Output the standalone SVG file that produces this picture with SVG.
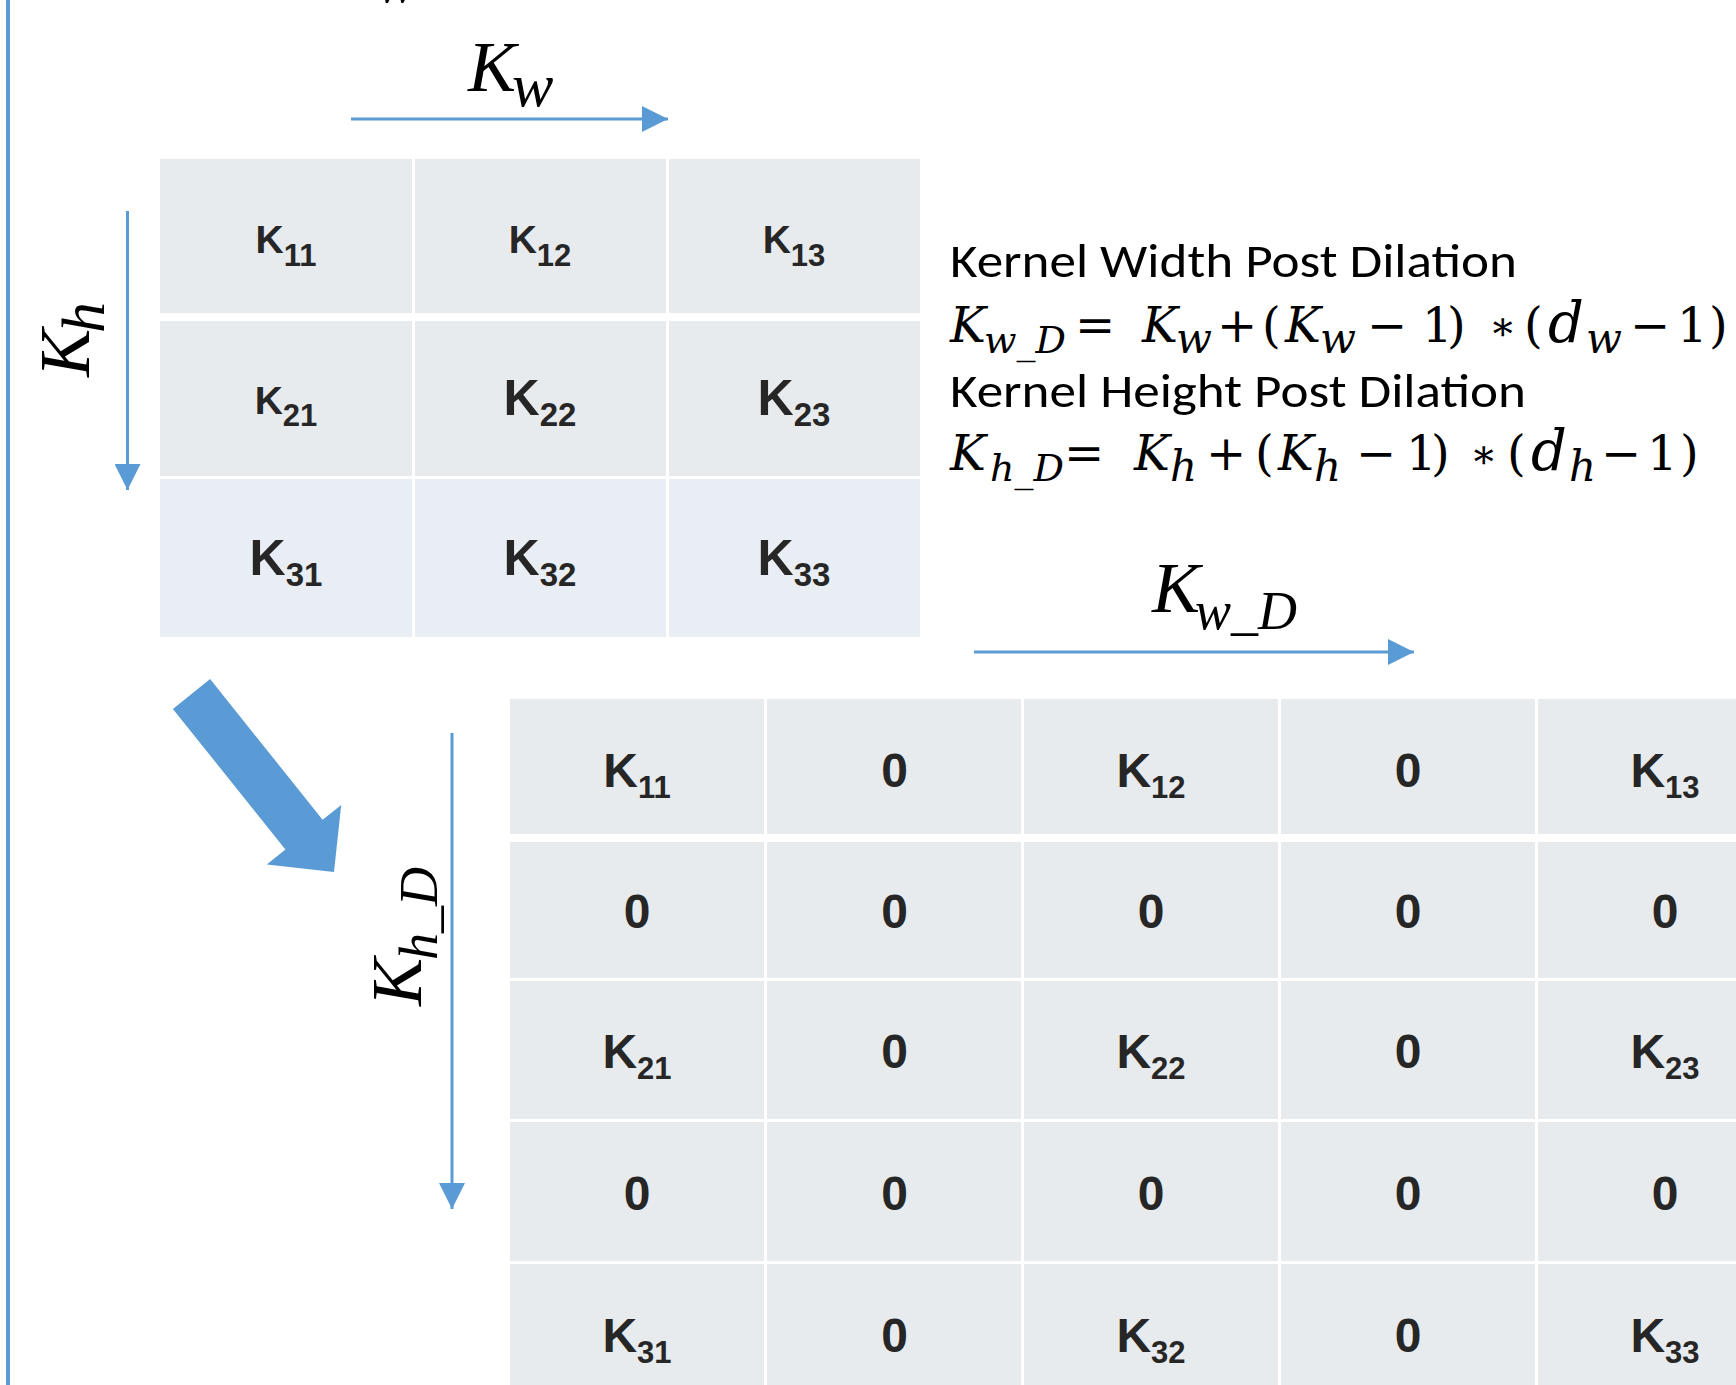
<svg xmlns="http://www.w3.org/2000/svg" width="1736" height="1385" viewBox="0 0 1736 1385">
<defs>
<style>
.c1{fill:#E7EBEE}
.c3{fill:#E9EDF4}
.kt{font-family:'Liberation Sans',Arial,sans-serif;font-weight:bold;fill:#262626;text-anchor:middle}
.math{font-family:'Liberation Serif','Times New Roman',serif;fill:#000}
.fm{font-family:'DejaVu Serif','Liberation Serif',serif;fill:#000;font-size:48px}
.it{font-style:italic}
.sb{font-size:38px;font-style:italic}
.sw{font-size:42px;font-style:italic}
.lbl{font-family:Carlito,Lato,'Open Sans',sans-serif;font-size:47px;fill:#000}
.conn{stroke:#5B9BD5;stroke-width:3;fill:none}
</style>
<marker id="ah" markerUnits="userSpaceOnUse" markerWidth="27" markerHeight="26" refX="26" refY="13" orient="auto" viewBox="0 0 27 26">
<path d="M0,0 L26,13 L0,26 z" fill="#5B9BD5"/>
</marker>
</defs>
<rect width="1736" height="1385" fill="#fff"/>
<rect x="6" y="0" width="4" height="1385" fill="#5B9BD5"/>

<g id="fragment-top">
<text class="math it" font-size="72"><tspan x="331" y="-14">K</tspan><tspan x="376" y="2" font-size="62">w</tspan></text>
</g>

<g id="connectors">
<line class="conn" x1="351" y1="119" x2="668" y2="119" marker-end="url(#ah)"/>
<line class="conn" x1="127.5" y1="211" x2="127.5" y2="490" marker-end="url(#ah)"/>
<line class="conn" x1="974" y1="652" x2="1414" y2="652" marker-end="url(#ah)"/>
<line class="conn" x1="452" y1="733" x2="452" y2="1209" marker-end="url(#ah)"/>
<polygon points="172.9,708.9 210.1,679.1 322.6,819.7 341.2,804.9 334,872.1 266.8,864.4 285.4,849.5" fill="#5B9BD5"/>
</g>

<g id="label-kw">
<text class="math it" font-size="72"><tspan x="468" y="91">K</tspan><tspan x="512" y="106" font-size="62">w</tspan></text>
</g>
<g id="label-kh">
<text class="math it" font-size="72" transform="translate(89,377) rotate(-90)"><tspan x="0" y="0">K</tspan><tspan x="44" y="15" font-size="62">h</tspan></text>
</g>
<g id="label-kwd">
<text class="math it" font-size="72"><tspan x="1152" y="612">K</tspan><tspan x="1195" y="629" font-size="54">w_D</tspan></text>
</g>
<g id="label-khd">
<text class="math it" font-size="72" transform="translate(421,1006) rotate(-90)"><tspan x="0" y="0">K</tspan><tspan x="46" y="16" font-size="54">h_D</tspan></text>
</g>

<g id="kernel-3x3">
<rect class="c1" x="160" y="159" width="252" height="154"/>
<rect class="c1" x="415" y="159" width="251" height="154"/>
<rect class="c1" x="669" y="159" width="251" height="154"/>
<rect class="c1" x="160" y="321" width="252" height="155"/>
<rect class="c1" x="415" y="321" width="251" height="155"/>
<rect class="c1" x="669" y="321" width="251" height="155"/>
<rect class="c3" x="160" y="479" width="252" height="158"/>
<rect class="c3" x="415" y="479" width="251" height="158"/>
<rect class="c3" x="669" y="479" width="251" height="158"/>
<text class="kt" x="286" y="253" font-size="39">K<tspan font-size="31" dy="13">11</tspan></text>
<text class="kt" x="540" y="253" font-size="39">K<tspan font-size="31" dy="13">12</tspan></text>
<text class="kt" x="794" y="253" font-size="39">K<tspan font-size="31" dy="13">13</tspan></text>
<text class="kt" x="286" y="414" font-size="39">K<tspan font-size="31" dy="12">21</tspan></text>
<text class="kt" x="540" y="415" font-size="50">K<tspan font-size="33" dy="11">22</tspan></text>
<text class="kt" x="794" y="415" font-size="50">K<tspan font-size="33" dy="11">23</tspan></text>
<text class="kt" x="286" y="575" font-size="50">K<tspan font-size="33" dy="11">31</tspan></text>
<text class="kt" x="540" y="575" font-size="50">K<tspan font-size="33" dy="11">32</tspan></text>
<text class="kt" x="794" y="575" font-size="50">K<tspan font-size="33" dy="11">33</tspan></text>
</g>

<g id="formulas">
<text class="lbl" x="950" y="277" textLength="567" lengthAdjust="spacingAndGlyphs">Kernel Width Post Dilation</text>
<text class="fm"><tspan class="it" x="950" y="342">K</tspan><tspan class="sb" x="984" y="353">w_D</tspan><tspan x="1075" y="342">=</tspan><tspan class="it" x="1142" y="342">K</tspan><tspan class="sw" x="1176" y="353">w</tspan><tspan x="1217" y="342">+</tspan><tspan x="1262" y="342">(</tspan><tspan class="it" x="1285" y="342">K</tspan><tspan class="sw" x="1320" y="353">w</tspan><tspan x="1367" y="342">−</tspan><tspan x="1422" y="342">1</tspan><tspan x="1447" y="342">)</tspan><tspan x="1489" y="340" font-size="40">∗</tspan><tspan x="1524" y="342">(</tspan><tspan class="it" x="1548" y="342" font-size="56">d</tspan><tspan class="sw" x="1586" y="353">w</tspan><tspan x="1630" y="342">−</tspan><tspan x="1677" y="342">1</tspan><tspan x="1709" y="342">)</tspan></text>
<text class="lbl" x="950" y="407" textLength="576" lengthAdjust="spacingAndGlyphs">Kernel Height Post Dilation</text>
<text class="fm"><tspan class="it" x="950" y="470">K</tspan><tspan class="sb" x="990" y="481">h_D</tspan><tspan x="1064" y="470">=</tspan><tspan class="it" x="1134" y="470">K</tspan><tspan class="sw" x="1170" y="481">h</tspan><tspan x="1206" y="470">+</tspan><tspan x="1255" y="470">(</tspan><tspan class="it" x="1278" y="470">K</tspan><tspan class="sw" x="1314" y="481">h</tspan><tspan x="1356" y="470">−</tspan><tspan x="1406" y="470">1</tspan><tspan x="1431" y="470">)</tspan><tspan x="1470" y="468" font-size="40">∗</tspan><tspan x="1507" y="470">(</tspan><tspan class="it" x="1531" y="470" font-size="56">d</tspan><tspan class="sw" x="1569" y="481">h</tspan><tspan x="1601" y="470">−</tspan><tspan x="1647" y="470">1</tspan><tspan x="1680" y="470">)</tspan></text>
</g>

<g id="kernel-dilated">
<rect class="c1" x="510" y="699" width="254" height="135"/>
<rect class="c1" x="767" y="699" width="254" height="135"/>
<rect class="c1" x="1024" y="699" width="254" height="135"/>
<rect class="c1" x="1281" y="699" width="254" height="135"/>
<rect class="c1" x="1538" y="699" width="260" height="135"/>
<rect class="c1" x="510" y="842" width="254" height="136"/>
<rect class="c1" x="767" y="842" width="254" height="136"/>
<rect class="c1" x="1024" y="842" width="254" height="136"/>
<rect class="c1" x="1281" y="842" width="254" height="136"/>
<rect class="c1" x="1538" y="842" width="260" height="136"/>
<rect class="c1" x="510" y="981" width="254" height="138"/>
<rect class="c1" x="767" y="981" width="254" height="138"/>
<rect class="c1" x="1024" y="981" width="254" height="138"/>
<rect class="c1" x="1281" y="981" width="254" height="138"/>
<rect class="c1" x="1538" y="981" width="260" height="138"/>
<rect class="c1" x="510" y="1122" width="254" height="139"/>
<rect class="c1" x="767" y="1122" width="254" height="139"/>
<rect class="c1" x="1024" y="1122" width="254" height="139"/>
<rect class="c1" x="1281" y="1122" width="254" height="139"/>
<rect class="c1" x="1538" y="1122" width="260" height="139"/>
<rect class="c1" x="510" y="1264" width="254" height="130"/>
<rect class="c1" x="767" y="1264" width="254" height="130"/>
<rect class="c1" x="1024" y="1264" width="254" height="130"/>
<rect class="c1" x="1281" y="1264" width="254" height="130"/>
<rect class="c1" x="1538" y="1264" width="260" height="130"/>
<g font-size="48">
<text class="kt" x="637" y="787">K<tspan font-size="31" dy="11">11</tspan></text>
<text class="kt" x="894.5" y="787">0</text>
<text class="kt" x="1151" y="787">K<tspan font-size="31" dy="11">12</tspan></text>
<text class="kt" x="1408" y="787">0</text>
<text class="kt" x="1665" y="787">K<tspan font-size="31" dy="11">13</tspan></text>
<text class="kt" x="637" y="928">0</text>
<text class="kt" x="894.5" y="928">0</text>
<text class="kt" x="1151" y="928">0</text>
<text class="kt" x="1408" y="928">0</text>
<text class="kt" x="1665" y="928">0</text>
<text class="kt" x="637" y="1068">K<tspan font-size="31" dy="11">21</tspan></text>
<text class="kt" x="894.5" y="1068">0</text>
<text class="kt" x="1151" y="1068">K<tspan font-size="31" dy="11">22</tspan></text>
<text class="kt" x="1408" y="1068">0</text>
<text class="kt" x="1665" y="1068">K<tspan font-size="31" dy="11">23</tspan></text>
<text class="kt" x="637" y="1210">0</text>
<text class="kt" x="894.5" y="1210">0</text>
<text class="kt" x="1151" y="1210">0</text>
<text class="kt" x="1408" y="1210">0</text>
<text class="kt" x="1665" y="1210">0</text>
<text class="kt" x="637" y="1352">K<tspan font-size="31" dy="11">31</tspan></text>
<text class="kt" x="894.5" y="1352">0</text>
<text class="kt" x="1151" y="1352">K<tspan font-size="31" dy="11">32</tspan></text>
<text class="kt" x="1408" y="1352">0</text>
<text class="kt" x="1665" y="1352">K<tspan font-size="31" dy="11">33</tspan></text>
</g>
</g>
</svg>
